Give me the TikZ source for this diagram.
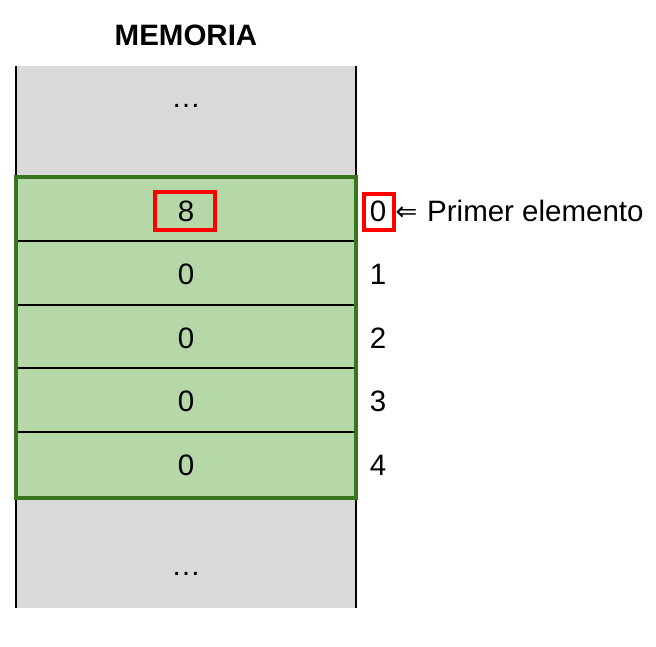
\documentclass[tikz,border=0pt]{standalone}
\usepackage{fontspec}
\setmainfont{Liberation Sans}
\newfontfamily\arrowfont{DejaVu Sans}
\definecolor{cellgreen}{HTML}{B6D7A8}
\definecolor{bordergreen}{HTML}{38761D}
\definecolor{cellgray}{HTML}{D9D9D9}
\begin{document}
\begin{tikzpicture}[x=1pt,y=-1pt,
  txt/.style={font=\fontsize{29.5}{34}\selectfont, inner sep=0pt, anchor=center},
  redbox/.style={draw=red, line width=4pt, inner sep=0pt},
  sep/.style={black, line width=2pt},
  side/.style={black, line width=2pt}]
\useasboundingbox (0,0) rectangle (656,647);
% title
\node[txt, font=\fontsize{29.5}{34}\selectfont\bfseries] (title) at (186,35) {MEMORIA};
% top gray
\fill[cellgray] (16,66) rectangle (356,177);
\draw[side] (16,66) -- (16,177) (356,66) -- (356,177);
\node[txt, anchor=base] (dotstop) at (186,108) {\dots};
% bottom gray
\fill[cellgray] (16,498) rectangle (356,608);
\draw[side] (16,498) -- (16,608) (356,498) -- (356,608);
\node[txt, anchor=base] (dotsbot) at (186,575) {\dots};
% green block
\fill[cellgreen] (16,177) rectangle (356,498);
\foreach \y in {241,305,368,432} \draw[sep] (16,\y) -- (356,\y);
\draw[bordergreen, line width=3.5pt] (16,177) rectangle (356,498);
% cell values
\node[txt] (c0) at (186,211) {8};
\node[txt] (c1) at (186,274) {0};
\node[txt] (c2) at (186,338) {0};
\node[txt] (c3) at (186,401) {0};
\node[txt] (c4) at (186,465) {0};
\draw[redbox] (155,192) rectangle (215,230);
% indices
\node[txt] (i0) at (378,211) {0};
\node[txt] (i1) at (378,274) {1};
\node[txt] (i2) at (378,338) {2};
\node[txt] (i3) at (378,401) {3};
\node[txt] (i4) at (378,465) {4};
\draw[redbox] (364,194) rectangle (394,230);
% label
\node[inner sep=0pt] (arr) at (406.5,214) {\arrowfont\fontsize{26}{30}\selectfont ⇐};
\node[txt, anchor=west] (lbl) at (427,211) {Primer elemento};
\end{tikzpicture}
\end{document}
